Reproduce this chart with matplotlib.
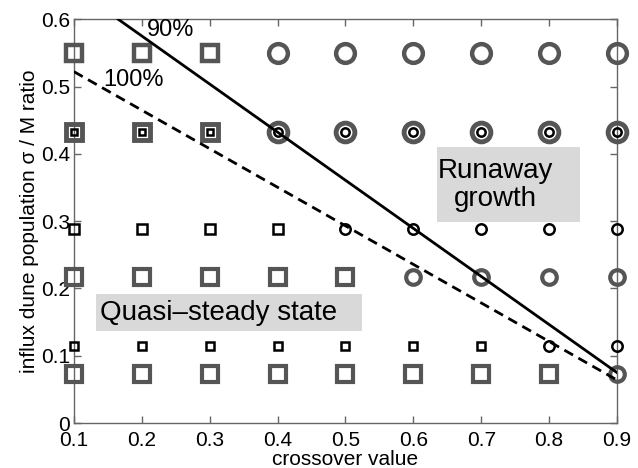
import matplotlib
matplotlib.use('Agg')
import matplotlib.pyplot as plt
from matplotlib.patches import Rectangle

plt.rcParams['font.family'] = ['Liberation Sans', 'DejaVu Sans']

# Parameter grid
crossover = [0.1, 0.2, 0.3, 0.4, 0.5, 0.6, 0.7, 0.8, 0.9]
ratios = [0.55, 0.433, 0.289, 0.217, 0.115, 0.073]

# S = quasi-steady (square), R = runaway (circle), one string per ratio row
regimes = [
    'SSSRRRRRR',
    'SSSRRRRRR',
    'SSSSRRRRR',
    'SSSSSRRRR',
    'SSSSSSSRR',
    'SSSSSSSSR',
]

# threshold lines
line90_x = [0.165, 0.9]
line90_y = [0.6, 0.075]
line100_x = [0.1, 0.9]
line100_y = [0.522, 0.064]

gray = '#555555'

# marker look per row: list of (colour, square size, circle size, edge width)
row_styles = [
    [(gray, 11, 13.5, 3.2)],
    [(gray, 11, 13.5, 3.5), ('black', 4.2, 6.0, 1.8)],
    [('black', 6.5, 7.5, 1.8)],
    [(gray, 11, 10.5, 3.0)],
    [('black', 6.0, 7.5, 1.8)],
    [(gray, 11, 10.5, 3.0)],
]

fig = plt.figure(figsize=(6.38, 4.68), dpi=100)
ax = fig.add_axes([0.116, 0.096, 0.851, 0.863])

for y, reg, styles in zip(ratios, regimes, row_styles):
    for col, ms_sq, ms_ci, mew in styles:
        xs_s = [x for x, r in zip(crossover, reg) if r == 'S']
        xs_r = [x for x, r in zip(crossover, reg) if r == 'R']
        ax.plot(xs_s, [y] * len(xs_s), 's', ms=ms_sq, mfc='none', mec=col,
                mew=mew, clip_on=False, zorder=3)
        ax.plot(xs_r, [y] * len(xs_r), 'o', ms=ms_ci, mfc='none', mec=col,
                mew=mew, clip_on=False, zorder=3)

ax.plot(line90_x, line90_y, '-', color='black', lw=2, zorder=4)
ax.plot(line100_x, line100_y, '--', color='black', lw=2, dashes=(3.6, 2.2), zorder=4)

ax.text(0.207, 0.584, '90%', fontsize=17, ha='left', va='center')
ax.text(0.143, 0.51, '100%', fontsize=17, ha='left', va='center')

# grey label backgrounds (MATLAB-style text boxes)
ax.add_patch(Rectangle((0.6346, 0.2987), 0.2106, 0.1113, facecolor='#d9d9d9',
                       edgecolor='none', zorder=2))
ax.add_patch(Rectangle((0.1324, 0.1367), 0.3918, 0.055, facecolor='#d9d9d9',
                       edgecolor='none', zorder=2))
ax.text(0.7215, 0.354, 'Runaway\ngrowth', fontsize=20, ha='center', va='center',
        multialignment='center', linespacing=1.1, zorder=2.5)
ax.text(0.3135, 0.164, 'Quasi\u2013steady state', fontsize=20, ha='center',
        va='center', zorder=2.5)

ax.set_xlim(0.1, 0.9)
ax.set_ylim(0, 0.6)
ax.set_xticks(crossover)
ax.set_yticks([0, 0.1, 0.2, 0.3, 0.4, 0.5, 0.6])
ax.set_xticklabels([f'{v:g}' for v in crossover])
ax.set_yticklabels(['0', '0.1', '0.2', '0.3', '0.4', '0.5', '0.6'])
ax.tick_params(direction='in', length=5, width=1, color='#666666',
               labelsize=15, top=True, right=True, pad=3)
ax.tick_params(axis='x', pad=6)
for sp in ax.spines.values():
    sp.set_color('#666666')
    sp.set_linewidth(1)

ax.set_xlabel('crossover value', fontsize=15, labelpad=0)
ax.set_ylabel('influx dune population \u03c3 / M ratio', fontsize=15, labelpad=1)

fig.savefig('out.png', dpi=100)
